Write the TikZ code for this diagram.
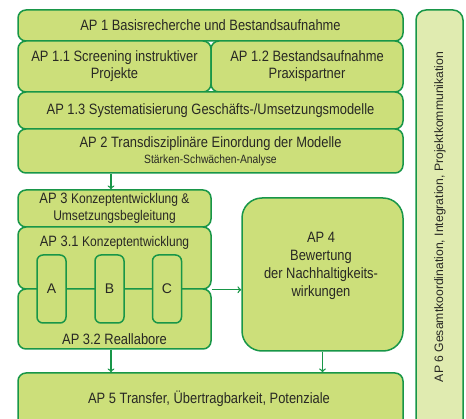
\documentclass[tikz,border=0pt]{standalone}
\usepackage{fontspec}
\setmainfont{Liberation Sans}[FakeStretch=0.86]
\newfontfamily\plainsans{Liberation Sans}
\usepackage{tikz}
\definecolor{apGreen}{RGB}{24, 150, 72}
\definecolor{apFill}{RGB}{204, 223, 122}
\definecolor{apLight}{RGB}{224, 235, 176}
\definecolor{apText}{RGB}{40, 40, 36}

\begin{document}
\begin{tikzpicture}[x=1pt, y=-1pt,
    apbox/.style={draw=apGreen, line width=1.5pt, fill=apFill, rounded corners=8pt,
      inner sep=0pt, align=center, text=apText, font=\fontsize{15}{17}\selectfont},
    subbox/.style={apbox, rounded corners=6pt, minimum width=29pt, minimum height=68pt,
      font=\plainsans\fontsize{14}{16}\selectfont},
    aparrow/.style={draw=apGreen, line width=1.4pt, ->}]
        \useasboundingbox (0,0) rectangle (466,419);
        % Seitenleiste AP 6
        \node[apbox, fill=apLight, rounded corners=10pt, minimum width=47pt, minimum height=420pt] (ap6) at (439.5,220) {};
        \node[rotate=90, text=apText, font=\plainsans\fontsize{12.2}{14}\selectfont] (ap6text) at (440,217) {AP 6 Gesamtkoordination, Integration, Projektkommunikation};
        % AP 1 und AP 2
        \node[apbox, minimum width=385pt, minimum height=31pt] (ap1) at (210.5,25.5) {AP 1 Basisrecherche und Bestandsaufnahme};
        \node[apbox, minimum width=193pt, minimum height=51pt] (ap11) at (114.5,66.5) {AP 1.1 Screening instruktiver\\Projekte};
        \node[apbox, minimum width=192pt, minimum height=51pt] (ap12) at (307,66.5) {AP 1.2 Bestandsaufnahme\\Praxispartner};
        \node[apbox, minimum width=385pt, minimum height=37pt] (ap13) at (210.5,110.5) {AP 1.3 Systematisierung Gesch\"afts-/Umsetzungsmodelle};
        \node[apbox, minimum width=385pt, minimum height=44pt] (ap2) at (210.5,151) {AP 2 Transdisziplin\"are Einordung der Modelle\\[-1pt]{\fontsize{12}{13}\selectfont St\"arken-Schw\"achen-Analyse}};
        % AP 3
        \node[apbox, minimum width=193pt, minimum height=37pt] (ap3) at (114.5,208.5) {AP 3 {\fontsize{14}{15}\selectfont Konzeptentwicklung \&}\\{\fontsize{14}{15}\selectfont Umsetzungsbegleitung}};
        \node[apbox, minimum width=193pt, minimum height=62pt] (ap31) at (114.5,258) {};
        \node[apbox, minimum width=193pt, minimum height=60pt] (ap32) at (114.5,319) {};
        \node[text=apText, font=\fontsize{15}{17}\selectfont] (ap31text) at (114.5,243) {AP 3.1 {\fontsize{14}{15}\selectfont Konzeptentwicklung}};
        \node[text=apText, font=\fontsize{15}{17}\selectfont] (ap32text) at (114.5,339) {AP 3.2 Reallabore};
        \node[subbox] (labA) at (51.5,289) {A};
        \node[subbox] (labB) at (109.5,289) {B};
        \node[subbox] (labC) at (167,289) {C};
        % AP 4 und AP 5
        \node[apbox, rounded corners=20pt, minimum width=161pt, minimum height=153pt] (ap4) at (322.5,274.5) {};
        \node[text=apText, align=center, font=\fontsize{15}{18}\selectfont] (ap4text) at (321,266) {AP 4\\Bewertung\\der Nachhaltigkeits-\\wirkungen};
        \node[apbox, minimum width=385pt, minimum height=60pt] (ap5) at (210.5,403) {};
        \node[text=apText, font=\fontsize{15}{17}\selectfont] (ap5text) at (209,399) {AP 5 Transfer, \"Ubertragbarkeit, Potenziale};
        % Pfeile
        \draw[aparrow] (ap2.south -| 111,0) -- (ap3.north -| 111,0);
        \draw[aparrow] (ap31.south east) -- (ap31.south east -| ap4.west);
        \draw[aparrow] (ap32.south -| 111,0) -- (ap5.north -| 111,0);
        \draw[aparrow] (ap4.south) -- (ap4.south |- ap5.north);
      \end{tikzpicture}
\end{document}
